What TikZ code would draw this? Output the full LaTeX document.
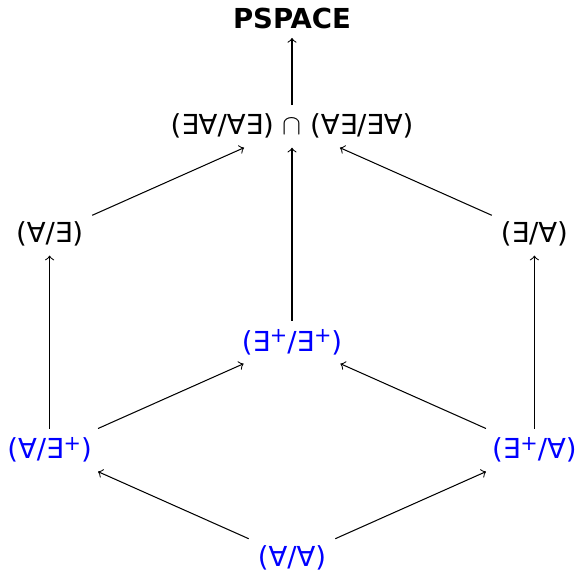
\documentclass[tikz,border=0pt]{standalone}
\usepackage{fontspec}
\setmainfont{DejaVu Sans}
\usetikzlibrary{arrows,positioning}
\usepackage{xcolor}
\definecolor{qInk}{HTML}{000000}
\definecolor{qBlue}{HTML}{0000FF}
\newcommand{\plusup}{\raisebox{0.55ex}{\fontsize{8}{9}\selectfont +}}
\tikzset{
  cls/.style={text=qInk, inner sep=3.3pt, font=\fontsize{10.6}{12.7}\selectfont},
  clsB/.style={cls, text=qBlue},
  arr/.style={->, draw=qInk},
}
\begin{document}
\begin{tikzpicture}[node distance=1.46cm and 3.28cm, on grid]
        \useasboundingbox (-3.951,-0.298) rectangle (3.897,7.550);
        \node[clsB] (aa) at (0,0) {(∀/∀)};
        \node[clsB, above left=of aa] (ae) {(∀/∃\plusup)};
        \node[clsB, above right=of aa] (ea) {(∃\plusup/∀)};
        \node[clsB, above right=of ae] (ee) {(∃\plusup/∃\plusup)};
        \node[cls, above=2.92cm of ae] (af) {(∀/∃)};
        \node[cls, above=2.92cm of ea] (ef) {(∃/∀)};
        \node[cls, above right=of af] (mid) {(∃∀/∀∃) $\cap$ (∀∃/∃∀)};
        \node[cls, above=of mid, font=\fontsize{10.6}{12.7}\selectfont\bfseries] (ps) {PSPACE};
        \draw[arr] (aa) -- (ae); \draw[arr] (aa) -- (ea);
        \draw[arr] (ae) -- (ee); \draw[arr] (ea) -- (ee);
        \draw[arr] (ae) -- (af); \draw[arr] (ea) -- (ef);
        \draw[arr] (af) -- (mid); \draw[arr] (ef) -- (mid);
        \draw[arr] (ee) -- (mid); \draw[arr] (mid) -- (ps);
    \end{tikzpicture}
\end{document}
